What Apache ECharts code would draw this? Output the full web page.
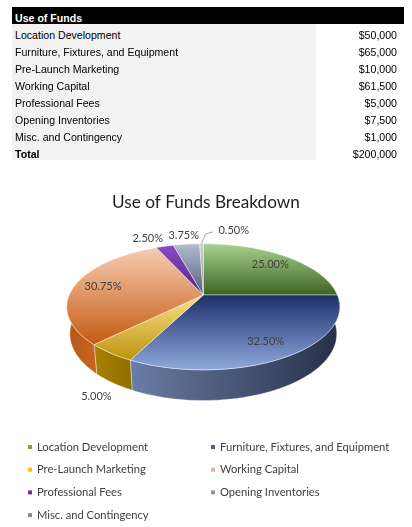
<!DOCTYPE html>
<html>
<head>
<meta charset="utf-8">
<title>Use of Funds</title>
<script src="https://cdn.jsdelivr.net/npm/echarts@6.0.0/dist/echarts.min.js"></script>
<style>
  body { margin:0; background:#fff; }
  #page { position:relative; width:412px; height:527px; overflow:hidden; }
  #echarts1 { position:absolute; left:0; top:0; width:412px; height:527px; }
  #fund_table { position:absolute; left:12px; top:7px; width:392px; font-family:"Liberation Sans", Arial, sans-serif; font-size:10.6px; color:#000; }
  #fund_table .row { position:relative; height:17px; line-height:17px; overflow:hidden; }
  #fund_table .row span { position:absolute; top:3px; white-space:nowrap; }
  #fund_table .nm { left:3px; }
  #fund_table .val { right:7px; }
  #fund_table .head { background:#000; color:#fff; font-weight:bold; }
  #fund_table .body_bg { position:absolute; left:0; top:17px; width:304px; height:136px; background:#f2f2f2; }
  #fund_table .total .nm { font-weight:bold; }
</style>
</head>
<body>
<div id="page">
  <div id="echarts1"></div>
  <div id="fund_table"></div>
</div>
<script>
var categories = ['Location Development', 'Furniture, Fixtures, and Equipment', 'Pre-Launch Marketing',
                  'Working Capital', 'Professional Fees', 'Opening Inventories', 'Misc. and Contingency'];
var amounts = [50000, 65000, 10000, 61500, 5000, 7500, 1000];
var tableTitle = 'Use of Funds';
var totalName = 'Total';
var chartTitle = 'Use of Funds Breakdown';

/* colours: legend swatch, top face (top -> bottom), side wall (left -> right) */
var legendColors = ['#70ad47', '#4a5f96', '#ffc000', '#f4b183', '#7030a0', '#8497b0', '#8c8c8c'];
var topColors = [['#a9d18e', '#3b6326'], ['#1c2f6c', '#8fa9dc'], ['#fbe08a', '#bd930c'], ['#f6cdb3', '#c55a11'],
                 ['#8a4cc0', '#5a1f8a'], ['#b4bdd0', '#4f5e78'], ['#cfcfcf', '#808080']];
var sideColors = [['#3b6326', '#2b4a1b'], ['#6a7da6', '#262f48'], ['#a88300', '#8f6d00'], ['#b9561a', '#c7661f'],
                  ['#5a1f8a', '#4a1872'], ['#56657f', '#3d4a60'], ['#808080', '#666666']];

var total = amounts.reduce(function (a, b) { return a + b; }, 0);

function money(v) { return '$' + v.toLocaleString('en-US'); }

/* table */
var html = '<div class="body_bg"></div>';
html += '<div class="row head"><span class="nm">' + tableTitle + '</span></div>';
for (var i = 0; i < categories.length; i++) {
  html += '<div class="row"><span class="nm">' + categories[i] + '</span><span class="val">' + money(amounts[i]) + '</span></div>';
}
html += '<div class="row total"><span class="nm">' + totalName + '</span><span class="val">' + money(total) + '</span></div>';
document.getElementById('fund_table').innerHTML = html;

/* 3d pie projection (unit radius, camera above and in front) */
var pie3d = { cx: 203.3, cy: 295, D: 4.76, F: 638, tilt: 27 * Math.PI / 180, H: 0.228 };
function proj(r, phi, h) {
  var x3 = r * Math.sin(phi), z3 = -r * Math.cos(phi);
  var depth = pie3d.D - (h * Math.sin(pie3d.tilt) + z3 * Math.cos(pie3d.tilt));
  return [pie3d.cx + x3 * pie3d.F / depth,
          pie3d.cy + (z3 * Math.sin(pie3d.tilt) - h * Math.cos(pie3d.tilt)) * pie3d.F / depth];
}
function arcPts(r, a0, a1, h) {
  var n = Math.max(2, Math.ceil((a1 - a0) / (Math.PI / 180)));
  var pts = [];
  for (var k = 0; k <= n; k++) pts.push(proj(r, a0 + (a1 - a0) * k / n, h));
  return pts;
}

var startA = [], endA = [], acc = 0;
for (var i = 0; i < amounts.length; i++) {
  startA.push(acc / total * 2 * Math.PI);
  acc += amounts[i];
  endA.push(acc / total * 2 * Math.PI);
}

/* label layout */
var labels = [];
var prevBack = null;
for (var i = 0; i < amounts.length; i++) {
  var pct = amounts[i] / total;
  var mid = (startA[i] + endA[i]) / 2;
  var lb = { text: (pct * 100).toFixed(2) + '%', leader: null };
  if (pct >= 0.1) {
    lb.pos = proj(0.78, mid, 0);
  } else if (Math.cos(mid) < 0) {
    lb.pos = proj(1.15, mid, -pie3d.H);
    lb.pos[1] += 3;
  } else {
    lb.pos = proj(1.2, mid, 0);
    if (prevBack && lb.pos[0] - prevBack.pos[0] < 36) {
      if (pct < 0.01) {
        var p0 = proj(1, mid, 0);
        lb.pos = [prevBack.pos[0] + 50, prevBack.pos[1] - 5];
        lb.leader = [p0, [p0[0] + 4, lb.pos[1] + 3], [lb.pos[0] - 21, lb.pos[1] + 1]];
      } else {
        prevBack.pos[0] = lb.pos[0] - 36;
      }
    }
    prevBack = lb;
  }
  labels.push(lb);
}

function grad(x2, y2, c) {
  return new echarts.graphic.LinearGradient(0, 0, x2, y2, [{ offset: 0, color: c[0] }, { offset: 1, color: c[1] }]);
}

function renderSlice(i) {
  return function (params, api) {
    var a0 = startA[i], a1 = endA[i];
    var children = [];
    var w0 = Math.max(a0, Math.PI / 2), w1 = Math.min(a1, 1.5 * Math.PI);
    if (w1 > w0) {
      var wall = arcPts(1, w0, w1, 0).concat(arcPts(1, w0, w1, -pie3d.H).reverse());
      children.push({ type: 'polygon', shape: { points: wall },
        style: { fill: grad(1, 0, sideColors[i]), stroke: 'rgba(255,255,255,0.55)', lineWidth: 0.7 } });
    }
    var top = [proj(0, 0, 0)].concat(arcPts(1, a0, a1, 0));
    children.push({ type: 'polygon', shape: { points: top },
      style: { fill: grad(0, 1, topColors[i]), stroke: 'rgba(255,255,255,0.6)', lineWidth: 0.7 } });
    var lb = labels[i];
    if (lb.leader) {
      children.push({ type: 'polyline', z2: 90, shape: { points: lb.leader },
        style: { stroke: '#a6a6a6', lineWidth: 1, fill: null } });
    }
    children.push({ type: 'text', z2: 100,
      style: { text: lb.text, x: lb.pos[0], y: lb.pos[1], align: 'center', verticalAlign: 'middle',
               fontFamily: 'Lato', fontSize: 11, fill: '#404040' } });
    return { type: 'group', children: children };
  };
}

var seriesA = [];
for (var i = 0; i < categories.length; i++) {
  seriesA.push({
    name: categories[i],
    type: 'custom',
    coordinateSystem: 'none',
    itemStyle: { color: legendColors[i] },
    data: [[amounts[i]]],
    renderItem: renderSlice(i),
    silent: true
  });
}

var legendText = { fontFamily: 'Lato', fontSize: 11.2, color: '#404040', lineHeight: 14 };
var option1 = {
  animation: false,
  title: {
    text: chartTitle,
    left: 'center',
    top: 189,
    textStyle: { fontFamily: 'Lato', fontSize: 17.2, fontWeight: 'normal', color: '#1f1f1f' }
  },
  legend: [
    { orient: 'vertical', left: 28, top: 440, padding: 0, itemWidth: 4, itemHeight: 4, itemGap: 8.7, icon: 'rect',
      selectedMode: false, textStyle: legendText,
      data: [categories[0], categories[2], categories[4], categories[6]] },
    { orient: 'vertical', left: 211, top: 440, padding: 0, itemWidth: 4, itemHeight: 4, itemGap: 8.7, icon: 'rect',
      selectedMode: false, textStyle: legendText,
      data: [categories[1], categories[3], categories[5]] }
  ],
  series: seriesA
};
var myChart01 = echarts.init(document.getElementById('echarts1'));
myChart01.setOption(option1);
</script>
</body>
</html>
